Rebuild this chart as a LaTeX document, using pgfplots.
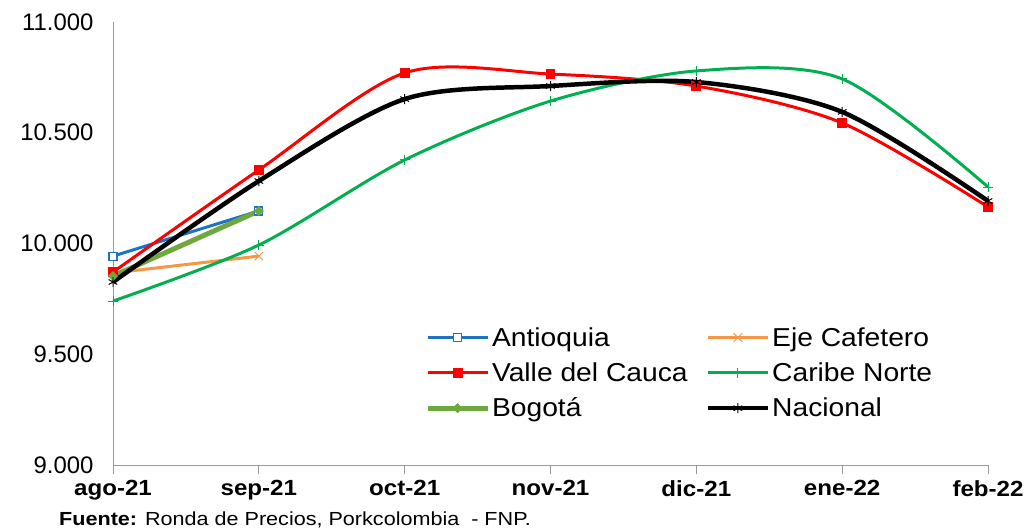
\documentclass[border=0pt]{standalone}
\usepackage{fontspec}
\setmainfont{Liberation Sans}
\newfontfamily\tickfont[FakeStretch=1.1]{Liberation Sans}
\newfontfamily\legfont[FakeStretch=1.09]{Liberation Sans}
\newfontfamily\footfont[FakeStretch=1.14]{Liberation Sans}
\usepackage{pgfplots}
\pgfplotsset{compat=1.18}
\definecolor{cAnt}{RGB}{30,115,196}
\definecolor{cEje}{RGB}{247,150,70}
\definecolor{cVal}{RGB}{255,0,0}
\definecolor{cCar}{RGB}{0,176,80}
\definecolor{cBog}{RGB}{112,168,64}
\begin{document}
\begin{tikzpicture}
\path[use as bounding box] (0,0) rectangle (1030bp,532bp);
\begin{axis}[
  at={(113bp,67bp)}, anchor=south west,
  width=875bp, height=443bp, scale only axis,
  xmin=0, xmax=6, ymin=9000, ymax=11000,
  axis x line*=bottom, axis y line*=left,
  axis line style={draw=gray!80, line width=1pt},
  xtick={0,...,6},
  xticklabels={ago-21,sep-21,oct-21,nov-21,dic-21,ene-22,feb-22},
  ytick={9000,9500,10000,10500,11000},
  scaled y ticks=false,
  tick align=outside,
  major tick length=9bp,
  xtick style={draw=gray!80, line width=1pt},
  ytick style={draw=none},
  yticklabel={\pgfmathprintnumber[fixed, precision=0, 1000 sep={.}, assume math mode=true]{\tick}},
  yticklabel style={font=\fontsize{24}{26}\selectfont, xshift=-7bp},
  xticklabel style={font=\tickfont\bfseries\fontsize{22}{24}\selectfont, yshift=-3bp},
  legend columns=2,
  legend style={draw=none, fill=none, at={(0.353,0.32)}, anchor=north west,
    font=\legfont\fontsize{26}{30}\selectfont, row sep=11bp,
    /tikz/every even column/.append style={column sep=16bp}},
  legend cell align=left,
  legend image code/.code={\draw[mark repeat=2,mark phase=2] plot coordinates {(0bp,0bp)(30bp,0bp)(60bp,0bp)};},
  clip=false,
]
\addplot[color=cAnt, line width=3pt, mark=square*, mark size=4bp, mark options={fill=white, line width=1.2pt}]
  coordinates {(0,9943) (1,10147)};
\addlegendentry{Antioquia}
\addplot[color=cEje, line width=3pt, mark=x, mark size=6bp, mark options={line width=1pt}]
  coordinates {(0,9867) (1,9943)};
\addlegendentry{Eje Cafetero}
\addplot[color=cVal, line width=3pt, smooth, tension=0.5, mark=square*, mark size=3.5bp]
  coordinates {(0,9871) (1,10332) (2,10770) (3,10765) (4,10711) (5,10544) (6,10165)};
\addlegendentry{Valle del Cauca}
\addplot[color=cCar, line width=3pt, smooth, tension=0.5, mark=+, mark size=5bp, mark options={line width=1pt}]
  coordinates {(0,9740) (1,9993) (2,10377) (3,10643) (4,10779) (5,10743) (6,10255)};
\addlegendentry{Caribe Norte}
\addplot[color=cBog, line width=5pt, mark=*, mark size=1.5bp]
  coordinates {(0,9853) (1,10147)};
\addlegendentry{Bogotá}
\addplot[color=black, line width=4.5pt, smooth, tension=0.5, mark=asterisk, mark size=5bp, mark options={line width=1pt}]
  coordinates {(0,9826) (1,10282) (2,10652) (3,10711) (4,10729) (5,10594) (6,10192)};
\addlegendentry{Nacional}
\end{axis}
\node[anchor=base west, inner sep=0pt, font=\footfont\fontsize{19}{22}\selectfont] at (59bp,7bp) {\textbf{Fuente:} Ronda de Precios, Porkcolombia \ - FNP.};
\end{tikzpicture}
\end{document}
